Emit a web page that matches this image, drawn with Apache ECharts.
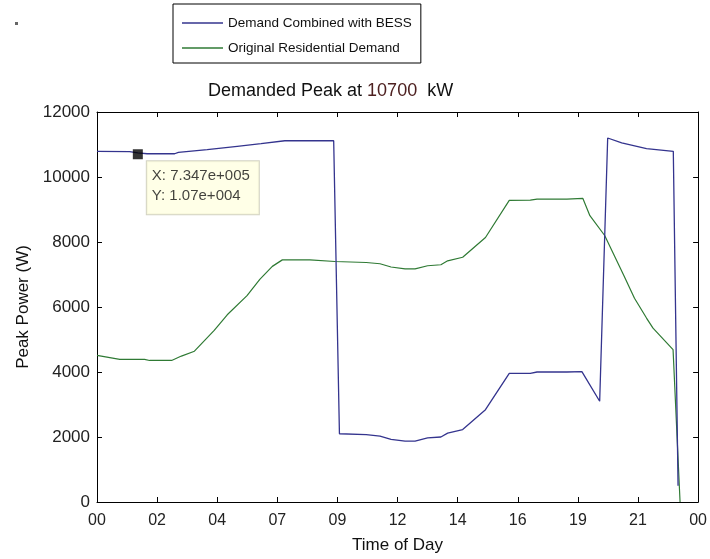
<!DOCTYPE html>
<html>
<head>
<meta charset="utf-8">
<title>Demanded Peak</title>
<script src="https://cdn.jsdelivr.net/npm/echarts@6/dist/echarts.min.js"></script>
<style>
  html, body { margin: 0; padding: 0; background: #fff; }
  #chart { width: 710px; height: 559px; }
</style>
</head>
<body>
<div id="chart"></div>
<script>
// time of day in hours, power in W
const bessHours = [0, 1.3, 1.63, 2.0, 3.1, 3.25, 4.4, 5.6, 6.55, 7.5, 9.45, 9.68, 10.75, 11.3, 11.74, 12.3, 12.7, 13.2, 13.73, 14.0, 14.6, 15.51, 16.46, 17.3, 17.57, 18.76, 19.36, 20.07, 20.39, 20.95, 21.94, 23.01, 23.2]
const bessPower = [10790, 10780, 10740, 10715, 10715, 10760, 10840, 10945, 11025, 11115, 11115, 2100, 2070, 2030, 1930, 1875, 1875, 1970, 2000, 2120, 2230, 2840, 3960, 3960, 4000, 4000, 4010, 3100, 11200, 11050, 10870, 10790, 500]

const resHours = [0, 0.91, 1.9, 2.1, 2.98, 3.37, 3.89, 4.68, 5.2, 5.99, 6.5, 7.0, 7.4, 8.5, 9.5, 10.75, 11.3, 11.74, 12.3, 12.7, 13.2, 13.73, 14.0, 14.6, 15.51, 16.46, 17.3, 17.57, 18.76, 19.4, 19.68, 20.27, 21.03, 21.46, 21.94, 22.2, 23.0, 23.28]
const resPower = [4510, 4390, 4390, 4355, 4355, 4490, 4640, 5280, 5760, 6350, 6850, 7250, 7450, 7450, 7400, 7370, 7330, 7230, 7175, 7175, 7270, 7300, 7420, 7530, 8140, 9280, 9290, 9320, 9320, 9340, 8810, 8200, 6980, 6270, 5660, 5350, 4690, 0]

const xTickLabels = ["00", "02", "04", "07", "09", "12", "14", "16", "19", "21", "00"]
const yTicks = { min: 0, max: 12000, step: 2000 }

// data tip
const tipHour = 1.63
const tipPower = 10700
const tipLines = ["X: 7.347e+005", "Y: 1.07e+004"]

const chart = echarts.init(document.getElementById("chart"))

const font = "'Liberation Sans', Arial, sans-serif"
const axisBlack = { lineStyle: { color: "#000", width: 1 } }

const xBase = {
  type: "value",
  min: 0,
  max: 24,
  interval: 2.4,
  axisLine: { show: true, onZero: false, ...axisBlack },
  axisTick: { show: true, inside: true, length: 5, ...axisBlack },
  splitLine: { show: false },
}
const yBase = {
  type: "value",
  min: yTicks.min,
  max: yTicks.max,
  interval: yTicks.step,
  axisLine: { show: true, onZero: false, ...axisBlack },
  axisTick: { show: true, inside: true, length: 5, ...axisBlack },
  splitLine: { show: false },
}

const option = {
  animation: false,
  backgroundColor: "#fff",
  textStyle: { fontFamily: font },
  title: {
    text: "Demanded Peak at {n|10700}  kW",
    left: 208,
    top: 82,
    padding: 0,
    textStyle: {
      fontFamily: font,
      fontSize: 18,
      fontWeight: "normal",
      color: "#111",
      rich: { n: { fontFamily: font, fontSize: 18, color: "#4d2020" } },
    },
  },
  legend: {
    orient: "vertical",
    left: 173,
    top: 4,
    padding: [12, 9, 8, 9],
    itemGap: 11,
    itemWidth: 41,
    itemHeight: 1.3,
    icon: "rect",
    borderColor: "#000",
    borderWidth: 1,
    backgroundColor: "#fff",
    textStyle: { fontFamily: font, fontSize: 13.5, color: "#111" },
    data: ["Demand Combined with BESS", "Original Residential Demand"],
  },
  graphic: [
    { type: "rect", shape: { x: 15, y: 22, width: 3, height: 3 }, style: { fill: "#666" } },
  ],
  grid: { left: 97, right: 8, top: 112, bottom: 54 },
  xAxis: [
    {
      ...xBase,
      position: "bottom",
      name: "Time of Day",
      nameLocation: "middle",
      nameGap: 35,
      nameTextStyle: { fontFamily: font, fontSize: 17, color: "#111" },
      axisLabel: {
        show: true,
        margin: 11,
        fontFamily: font,
        fontSize: 16,
        color: "#222",
        showMinLabel: true,
        showMaxLabel: true,
        formatter: (v) => xTickLabels[Math.round(v / 2.4)],
      },
    },
    { ...xBase, position: "top", axisLabel: { show: false } },
  ],
  yAxis: [
    {
      ...yBase,
      position: "left",
      name: "Peak Power (W)",
      nameLocation: "middle",
      nameRotate: 90,
      nameGap: 59,
      nameTextStyle: { fontFamily: font, fontSize: 17, color: "#111" },
      axisLabel: {
        show: true,
        margin: 7,
        fontFamily: font,
        fontSize: 17,
        color: "#222",
        formatter: (v) => String(v),
      },
    },
    { ...yBase, position: "right", axisLabel: { show: false } },
  ],
  series: [
    {
      name: "Demand Combined with BESS",
      type: "line",
      symbol: "none",
      color: "#34348e",
      lineStyle: { width: 1.3, color: "#34348e" },
      data: bessHours.map((h, i) => [h, bessPower[i]]),
      z: 3,
    },
    {
      name: "Original Residential Demand",
      type: "line",
      symbol: "none",
      color: "#2f7a34",
      lineStyle: { width: 1.2, color: "#2f7a34" },
      data: resHours.map((h, i) => [h, resPower[i]]),
      z: 2,
    },
    {
      name: "tip",
      type: "scatter",
      symbol: "rect",
      symbolSize: 10,
      itemStyle: { color: "#000" },
      data: [[tipHour, tipPower]],
      z: 5,
      label: {
        show: true,
        position: [14, 12],
        align: "left",
        verticalAlign: "top",
        formatter: () => tipLines.join("\n"),
        fontFamily: font,
        fontSize: 15,
        lineHeight: 20,
        color: "#111",
        backgroundColor: "#ffffe1",
        borderColor: "#c8c8b4",
        borderWidth: 1,
        padding: [5, 9, 8, 5],
      },
    },
  ],
}

chart.setOption(option)
</script>
</body>
</html>
